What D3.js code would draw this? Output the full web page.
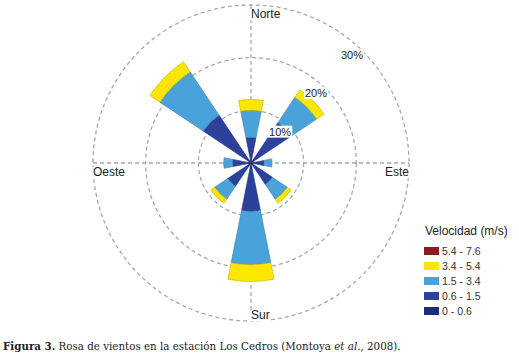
<!DOCTYPE html>
<html>
<head>
<meta charset="utf-8">
<script src="https://cdn.jsdelivr.net/npm/d3@7/dist/d3.min.js"></script>
<style>
  body { margin: 0; background: #fff; }
  svg { display: block; }
</style>
</head>
<body>
<script>
// Wind rose data - % of time per direction and speed class
const directions = ['N','NE','E','SE','S','SW','W','NW'];
const dirAngles = [0,45,90,135,180,225,270,315];
const speedBins = ['0 - 0.6','0.6 - 1.5','1.5 - 3.4','3.4 - 5.4','5.4 - 7.6'];
const binColors = ['#1c2a7c','#2b419b','#4aa2da','#fbe600','#8b1c1f'];

const calm    = [0.8, 1.0, 0.6, 0.8, 1.0, 0.8, 0.6, 1.0];   // 0 - 0.6
const light   = [4.1, 8.2, 1.9, 4.1, 8.2, 4.5, 2.9, 9.9];   // 0.6 - 1.5
const medium  = [5.1, 5.8, 1.5, 3.4, 10.1, 3.0, 1.7, 9.9];  // 1.5 - 3.4
const strong  = [2.1, 1.7, 0, 0.9, 3.2, 0.9, 0, 2.3];       // 3.4 - 5.4
const vstrong = [0, 0, 0, 0, 0, 0, 0, 0];                   // 5.4 - 7.6

const ringValues = [10, 20, 30];
const ringLabels = ['10%','20%','30%'];
const compass = ['Norte','Este','Sur','Oeste'];

const width = 519, height = 356;
const cx = 251, cy = 163;

const svg = d3.select("body").append("svg")
    .attr("width", width)
    .attr("height", height);

const rScale = d3.scaleLinear().domain([0, 30]).range([0, 158]);

// build table for stacking
const series = [calm, light, medium, strong, vstrong];
const table = directions.map((d, i) => {
    const row = {dir: d, angle: dirAngles[i]};
    speedBins.forEach((b, j) => { row[b] = series[j][i]; });
    return row;
});
const stacked = d3.stack().keys(speedBins)(table);

const g = svg.append("g").attr("transform", `translate(${cx},${cy})`);

// grid
const grid = g.append("g")
    .attr("fill", "none")
    .attr("stroke", "#a8a8a8")
    .attr("stroke-width", 1.3)
    .attr("stroke-dasharray", "4,3");
grid.selectAll("circle")
    .data(ringValues)
    .enter()
    .append("circle")
    .attr("r", d => rScale(d));
grid.append("line")
    .attr("x1", -rScale(30)).attr("x2", rScale(30));
grid.append("line")
    .attr("y1", -rScale(30)).attr("y2", rScale(30));

// wedges
const half = Math.PI / 16;
const arc = d3.arc()
    .innerRadius(d => rScale(d[0]))
    .outerRadius(d => rScale(d[1]))
    .startAngle(d => d.data.angle * Math.PI / 180 - half)
    .endAngle(d => d.data.angle * Math.PI / 180 + half);

g.selectAll(".layer")
    .data(stacked)
    .enter()
    .append("g")
    .attr("class", "layer")
    .attr("fill", (d, i) => binColors[i])
    .attr("stroke", (d, i) => d3.color(binColors[i]).darker(0.7))
    .attr("stroke-width", 0.6)
    .selectAll("path")
    .data(d => d.filter(p => p[1] > p[0]))
    .enter()
    .append("path")
    .attr("d", arc);

// ring labels
const labAng = 43 * Math.PI / 180;
ringValues.forEach((v, i) => {
    const r = rScale(v) - 10;
    const x = r * Math.sin(labAng), y = -r * Math.cos(labAng);
    const t = g.append("text")
        .attr("x", x).attr("y", y)
        .attr("dy", "0.35em")
        .attr("text-anchor", "middle")
        .style("font-family", "Liberation Sans, Arial, sans-serif")
        .style("font-size", "11px")
        .style("fill", "#222")
        .text(ringLabels[i]);
    const bb = t.node().getBBox();
    g.insert("rect", "text")
        .attr("x", bb.x - 1).attr("y", bb.y)
        .attr("width", bb.width + 2).attr("height", bb.height)
        .attr("fill", "#fff");
});
g.selectAll("text").raise();

// compass labels
const compassPos = [
    {x: 0, y: -149, anchor: "start"},
    {x: 158, y: 9, anchor: "end"},
    {x: 0, y: 152, anchor: "start"},
    {x: -158, y: 9, anchor: "start"}
];
compass.forEach((c, i) => {
    const p = compassPos[i];
    const t = g.append("text")
        .attr("x", p.x).attr("y", p.y)
        .attr("dy", "0.35em")
        .attr("text-anchor", p.anchor)
        .style("font-family", "Liberation Sans, Arial, sans-serif")
        .style("font-size", "12px")
        .style("fill", "#222")
        .text(c);
    const bb = t.node().getBBox();
    g.insert("rect", "text")
        .attr("x", bb.x - 1).attr("y", bb.y + 2)
        .attr("width", bb.width + 2).attr("height", bb.height - 3)
        .attr("fill", "#fff");
});
g.selectAll("text").raise();

// legend
const legend = svg.append("g").attr("transform", "translate(424,231)");
legend.append("text")
    .attr("x", 1).attr("y", 0)
    .attr("dy", "0.35em")
    .style("font-family", "Liberation Sans, Arial, sans-serif")
    .style("font-size", "12px")
    .style("fill", "#222")
    .text("Velocidad (m/s)");
const legendOrder = speedBins.slice().reverse();
const legendRows = legend.selectAll(".lrow")
    .data(legendOrder)
    .enter()
    .append("g")
    .attr("class", "lrow")
    .attr("transform", (d, i) => `translate(0,${20 + i * 15})`);
legendRows.append("rect")
    .attr("x", 0).attr("y", -4)
    .attr("width", 15).attr("height", 8)
    .attr("fill", d => binColors[speedBins.indexOf(d)]);
legendRows.append("text")
    .attr("x", 18).attr("y", 0)
    .attr("dy", "0.35em")
    .style("font-family", "Liberation Sans, Arial, sans-serif")
    .style("font-size", "10.5px")
    .style("fill", "#333")
    .text(d => d);

// caption
const cap = svg.append("text")
    .attr("x", 3).attr("y", 350)
    .style("font-family", "DejaVu Serif, serif")
    .style("font-size", "10.3px")
    .style("fill", "#222");
cap.append("tspan").style("font-weight", "bold").text("Figura 3.");
cap.append("tspan").text(" Rosa de vientos en la estación Los Cedros (Montoya ");
cap.append("tspan").style("font-style", "italic").text("et al.");
cap.append("tspan").text(", 2008).");
</script>
</body>
</html>
